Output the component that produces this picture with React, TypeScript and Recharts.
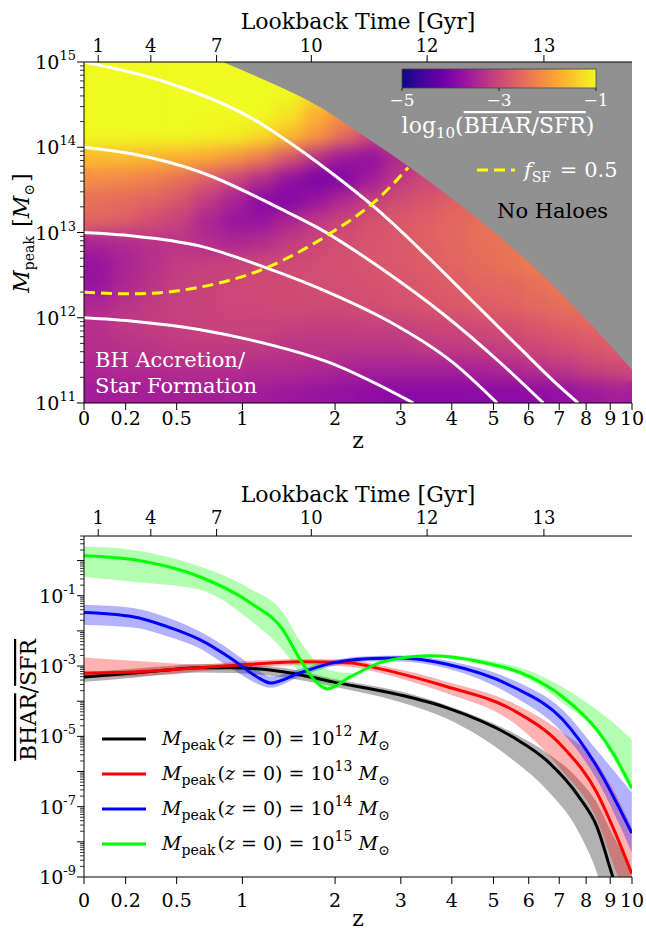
import React from 'react'
import { ComposedChart, Line, Area, XAxis, YAxis, ReferenceArea } from 'recharts'

const FONT = '"DejaVu Serif", serif'
const LG_MAX = Math.log10(11)

// axis ticks (x axis is log10(1+z))
const Z_TICKS = [0, 0.2, 0.5, 1, 2, 3, 4, 5, 6, 7, 8, 9, 10]
const LOOKBACK_LABELS = [1, 4, 7, 10, 12, 13]
const LOOKBACK_LG = [0.027, 0.127, 0.252, 0.432, 0.652, 0.874]
const MASS_LABELED = [11, 12, 13, 14, 15]
const RATIO_LABELED = [-9, -7, -5, -3, -1]
const RATIO_TOP = Math.log10(5)

// heat map: log10(BHAR/SFR), rows from logM 15 down to 11 (0.25 dex), 20 columns in log10(1+z)
const HEAT: number[][] = [
  [-0.8, -0.8, -0.8, -0.8, -0.8, -0.8, -0.9, -1.0, -1.0, -1.0, -1.0, -1.0, -1.0, -1.0, -1.0, -1.0, -1.0, -1.0, -1.0, -1.0],
  [-0.8, -0.8, -0.8, -0.8, -0.8, -0.8, -0.8, -0.9, -1.3, -1.5, -1.5, -1.5, -1.5, -1.5, -1.5, -1.5, -1.5, -1.5, -1.5, -1.5],
  [-0.8, -0.8, -0.8, -0.8, -0.8, -0.8, -0.85, -1.2, -1.7, -2.1, -2.3, -2.3, -2.3, -2.3, -2.3, -2.3, -2.3, -2.3, -2.3, -2.3],
  [-1.0, -1.0, -1.0, -1.0, -1.05, -1.1, -1.3, -1.6, -2.0, -2.5, -3.0, -3.0, -3.0, -3.0, -3.0, -3.0, -3.0, -3.0, -3.0, -3.0],
  [-1.6, -1.6, -1.65, -1.7, -1.8, -2.0, -2.3, -2.8, -3.3, -3.65, -3.75, -3.4, -3.1, -3.0, -3.0, -3.0, -3.0, -3.0, -3.0, -3.0],
  [-2.1, -2.15, -2.25, -2.45, -2.7, -3.0, -3.35, -3.75, -4.05, -3.95, -3.6, -3.2, -3.0, -2.85, -2.8, -2.8, -2.8, -2.8, -2.8, -2.8],
  [-2.45, -2.5, -2.6, -2.8, -3.15, -3.5, -3.85, -3.95, -3.7, -3.4, -3.1, -2.9, -2.8, -2.65, -2.55, -2.5, -2.5, -2.5, -2.5, -2.5],
  [-2.6, -2.7, -2.9, -3.1, -3.45, -3.7, -3.7, -3.45, -3.2, -3.0, -2.85, -2.75, -2.65, -2.55, -2.45, -2.4, -2.4, -2.4, -2.4, -2.4],
  [-3.5, -3.4, -3.3, -3.25, -3.35, -3.45, -3.35, -3.15, -3.0, -2.9, -2.8, -2.75, -2.65, -2.55, -2.45, -2.4, -2.35, -2.35, -2.35, -2.35],
  [-3.7, -3.5, -3.3, -3.15, -3.1, -3.05, -3.0, -2.95, -2.9, -2.85, -2.8, -2.75, -2.7, -2.6, -2.5, -2.4, -2.3, -2.3, -2.3, -2.3],
  [-3.7, -3.45, -3.25, -3.1, -3.05, -3.0, -2.95, -2.95, -2.9, -2.9, -2.85, -2.8, -2.75, -2.7, -2.6, -2.55, -2.45, -2.35, -2.3, -2.3],
  [-3.4, -3.25, -3.15, -3.1, -3.05, -3.0, -3.0, -2.95, -2.95, -2.95, -2.9, -2.85, -2.8, -2.75, -2.7, -2.65, -2.55, -2.45, -2.4, -2.4],
  [-3.3, -3.2, -3.15, -3.1, -3.05, -3.05, -3.05, -3.1, -3.15, -3.15, -3.1, -3.1, -3.05, -3.0, -2.95, -2.9, -2.8, -2.7, -2.6, -2.55],
  [-3.35, -3.3, -3.25, -3.2, -3.2, -3.2, -3.2, -3.25, -3.25, -3.25, -3.25, -3.25, -3.2, -3.2, -3.15, -3.1, -3.0, -2.9, -2.8, -2.7],
  [-3.45, -3.4, -3.4, -3.35, -3.35, -3.35, -3.4, -3.4, -3.45, -3.5, -3.55, -3.55, -3.55, -3.55, -3.5, -3.45, -3.35, -3.25, -3.1, -3.0],
  [-3.6, -3.55, -3.55, -3.55, -3.55, -3.55, -3.6, -3.65, -3.7, -3.75, -3.8, -3.85, -3.85, -3.85, -3.85, -3.85, -3.8, -3.75, -3.65, -3.55],
]

// "No Haloes" edge
const EDGE_LG = [0.264, 0.35, 0.449, 0.535, 0.62, 0.728, 0.854, 0.956, 1.0414]
const EDGE_M = [15.0, 14.77, 14.47, 14.12, 13.76, 13.26, 12.6, 11.97, 11.39]

// halo growth tracks, M_peak(z=0) = 10^12..10^15
const T15_LG = [0, 0.158, 0.316, 0.373, 0.468, 0.557, 0.639, 0.734, 0.829, 0.892, 0.939]
const T15_M = [15.0, 14.76, 14.35, 14.13, 13.71, 13.27, 12.8, 12.22, 11.64, 11.26, 11.0]
const T14_LG = [0, 0.093, 0.221, 0.373, 0.449, 0.576, 0.677, 0.797, 0.873]
const T14_M = [14.0, 13.92, 13.71, 13.28, 13.04, 12.53, 12.07, 11.44, 11.0]
const T13_LG = [0, 0.093, 0.221, 0.34, 0.468, 0.576, 0.702, 0.785]
const T13_M = [13.0, 12.96, 12.84, 12.6, 12.29, 11.97, 11.47, 11.0]
const T12_LG = [0, 0.093, 0.221, 0.316, 0.468, 0.626]
const T12_M = [12.0, 11.96, 11.86, 11.74, 11.47, 11.0]
const FSF_LG = [0, 0.093, 0.221, 0.34, 0.468, 0.563, 0.616]
const FSF_M = [12.3, 12.28, 12.36, 12.57, 12.99, 13.42, 13.76]

// bottom panel: log10(BHAR/SFR) with scatter bands
const K_LG = [0, 0.093, 0.158, 0.22, 0.283, 0.378, 0.473, 0.6, 0.69, 0.815, 0.878, 0.941, 0.975, 1.005, 1.041]
const K_MID = [-3.31, -3.2, -3.11, -3.05, -3.05, -3.16, -3.45, -3.82, -4.19, -5.02, -5.67, -6.73, -7.58, -9.0, -10.5]
const K_LO = [-3.45, -3.33, -3.24, -3.18, -3.2, -3.32, -3.58, -4.02, -4.5, -5.67, -6.5, -7.75, -8.9, -10.5, -12.0]
const K_HI = [-3.18, -3.08, -3.0, -2.95, -2.95, -3.05, -3.36, -3.72, -4.12, -4.9, -5.45, -6.24, -6.9, -7.8, -8.8]

const R_LG = [0, 0.093, 0.22, 0.316, 0.411, 0.506, 0.563, 0.63, 0.69, 0.815, 0.91, 0.975, 1.005, 1.041]
const R_MID = [-3.2, -3.17, -3.05, -2.95, -2.88, -2.91, -3.08, -3.33, -3.59, -4.25, -5.3, -6.61, -7.58, -8.9]
const R_LO = [-3.33, -3.3, -3.15, -3.05, -2.98, -3.02, -3.2, -3.48, -3.78, -4.6, -6.0, -7.37, -8.6, -10.0]
const R_HI = [-2.76, -2.85, -2.95, -2.85, -2.8, -2.82, -2.98, -3.2, -3.45, -4.05, -4.9, -5.75, -6.5, -7.6]

const B_LG = [0, 0.093, 0.158, 0.22, 0.283, 0.329, 0.354, 0.411, 0.473, 0.538, 0.6, 0.69, 0.815, 0.91, 0.975, 1.041]
const B_MID = [-1.48, -1.6, -1.88, -2.25, -2.82, -3.31, -3.48, -3.19, -2.91, -2.79, -2.77, -2.95, -3.59, -4.53, -5.87, -7.75]
const B_LO = [-1.83, -1.9, -2.15, -2.5, -3.1, -3.5, -3.62, -3.3, -3.0, -2.87, -2.87, -3.07, -3.85, -4.9, -6.24, -8.3]
const B_HI = [-1.26, -1.35, -1.62, -2.02, -2.6, -3.1, -3.3, -3.08, -2.83, -2.72, -2.7, -2.85, -3.4, -4.25, -5.4, -6.6]

const G_LG = [0, 0.093, 0.22, 0.316, 0.378, 0.411, 0.443, 0.462, 0.506, 0.568, 0.658, 0.753, 0.848, 0.91, 0.975, 1.005, 1.041]
const G_MID = [0.14, 0.03, -0.46, -1.2, -1.97, -2.82, -3.48, -3.65, -3.31, -2.88, -2.71, -2.88, -3.31, -3.88, -4.82, -5.47, -6.47]
const G_LO = [-0.46, -0.6, -0.83, -1.7, -2.54, -3.2, -3.5, -3.67, -3.36, -2.93, -2.76, -2.95, -3.4, -4.05, -4.9, -5.6, -6.6]
const G_HI = [0.4, 0.3, -0.17, -0.8, -1.48, -2.3, -2.9, -3.1, -3.2, -2.82, -2.66, -2.8, -3.15, -3.6, -4.25, -4.6, -5.1]

const PLASMA = ['#0d0887', '#41049d', '#6a00a8', '#8f0da4', '#b12a90', '#cc4778', '#e16462', '#f2844b', '#fca636', '#fcce25', '#f0f921']

function plasma(v: number) {
  const t = Math.max(0, Math.min(1, (v + 5) / 4)) * 10
  const i = Math.min(9, Math.floor(t))
  const f = t - i
  const a = PLASMA[i], b = PLASMA[i + 1]
  const ch = (h: string, k: number) => parseInt(h.slice(1 + 2 * k, 3 + 2 * k), 16)
  const c = [0, 1, 2].map(k => Math.round(ch(a, k) + (ch(b, k) - ch(a, k)) * f))
  return `rgb(${c[0]},${c[1]},${c[2]})`
}

const pts = (lg: number[], ys: number[]) => lg.map((x, i) => ({ lg: x, y: ys[i] }))
const band = (lg: number[], lo: number[], hi: number[]) => lg.map((x, i) => ({ lg: x, band: [lo[i], hi[i]] }))

const logTicks = (lo: number, hi: number) => {
  const out: number[] = []
  for (let n = Math.floor(lo); n <= hi; n++) {
    for (let k = 1; k <= 9; k++) {
      const t = n + Math.log10(k)
      if (t >= lo - 1e-9 && t <= hi + 1e-9) out.push(t)
    }
  }
  return out
}

const colW = LG_MAX / HEAT[0].length
const cells = HEAT.flatMap((row, r) =>
  row.map((v, c) => ({ x1: c * colW, x2: (c + 1) * colW, y1: 15 - (r + 1) * 0.25, y2: 15 - r * 0.25, fill: plasma(v) }))
)

function LogTick(props: any) {
  const { x, y, payload, labels } = props
  const v = payload.value
  const major = Math.abs(v - Math.round(v)) < 1e-6
  const len = major ? 7 : 4
  const show = major && labels.includes(Math.round(v))
  return (
    <g>
      <line x1={x - len} y1={y} x2={x} y2={y} stroke="#000" strokeWidth={major ? 1 : 0.8} />
      {show && (
        <text x={x - 8} y={y + 7} textAnchor="end" fontFamily={FONT} fontSize={19} fill="#000">
          10<tspan dy={-9} fontSize={13}>{Math.round(v)}</tspan>
        </text>
      )}
    </g>
  )
}

function ZTick(props: any) {
  const { x, y, payload, dy } = props
  const i = Z_TICKS.findIndex(z => Math.abs(Math.log10(1 + z) - payload.value) < 1e-9)
  return (
    <g>
      <line x1={x} y1={y} x2={x} y2={y + 7} stroke="#000" />
      <text x={x} y={y + dy} textAnchor="middle" fontFamily={FONT} fontSize={19} fill="#000">{Z_TICKS[i]}</text>
    </g>
  )
}

function AgeTick(props: any) {
  const { x, y, payload, dy } = props
  const i = LOOKBACK_LG.indexOf(payload.value)
  return (
    <g>
      <line x1={x} y1={y} x2={x} y2={y - 7} stroke="#000" />
      <text x={x} y={y - dy} textAnchor="middle" fontFamily={FONT} fontSize={18} fill="#000">{LOOKBACK_LABELS[i]}</text>
    </g>
  )
}

const zTickValues = Z_TICKS.map(z => Math.log10(1 + z))

const TRACKS = [pts(T15_LG, T15_M), pts(T14_LG, T14_M), pts(T13_LG, T13_M), pts(T12_LG, T12_M)]
const EDGE = band(EDGE_LG, EDGE_M, EDGE_M.map(() => 15))

const SERIES = [
  { mid: pts(K_LG, K_MID), band: band(K_LG, K_LO, K_HI), color: '#000000', exp: 12 },
  { mid: pts(R_LG, R_MID), band: band(R_LG, R_LO, R_HI), color: '#ff0000', exp: 13 },
  { mid: pts(B_LG, B_MID), band: band(B_LG, B_LO, B_HI), color: '#0000ff', exp: 14 },
  { mid: pts(G_LG, G_MID), band: band(G_LG, G_LO, G_HI), color: '#00ff00', exp: 15 },
]

function axes(bottomDy: number, topDy: number, yDomain: number[], yTicks: number[], labels: number[]) {
  return [
    <XAxis key="xb" xAxisId={0} dataKey="lg" type="number" domain={[0, LG_MAX]} allowDataOverflow ticks={zTickValues}
      interval={0} height={40} tickSize={0} tickMargin={0} tickLine={false} stroke="#000"
      tick={(p: any) => <ZTick {...p} dy={bottomDy} />} />,
    <XAxis key="xt" xAxisId="top" orientation="top" dataKey="lg" type="number" domain={[0, LG_MAX]} allowDataOverflow
      ticks={LOOKBACK_LG} interval={0} height={40} tickSize={0} tickMargin={0} tickLine={false} stroke="#000"
      tick={(p: any) => <AgeTick {...p} dy={topDy} />} />,
    <YAxis key="yl" yAxisId={0} type="number" domain={yDomain} allowDataOverflow ticks={yTicks} interval={0}
      width={70} tickSize={0} tickMargin={0} tickLine={false} stroke="#000"
      tick={(p: any) => <LogTick {...p} labels={labels} />} />,
    <YAxis key="yr" yAxisId="r" orientation="right" type="number" domain={yDomain} width={0} tick={false}
      tickLine={false} stroke="#000" />,
  ]
}

// colour grid in its own chart; a blurred copy is laid over a sharp one to smooth the cells
function HeatLayer({ blur }: { blur: number }) {
  return (
    <div style={{ position: 'absolute', left: 0, top: 0, filter: blur ? `blur(${blur}px)` : undefined,
      clipPath: 'inset(62px 14px 57px 84px)' }}>
      <ComposedChart width={646} height={460} margin={{ top: 62, right: 14, bottom: 57, left: 84 }}>
        <XAxis dataKey="lg" type="number" domain={[0, LG_MAX]} allowDataOverflow hide />
        <YAxis type="number" domain={[11, 15]} allowDataOverflow hide />
        <Line data={EDGE_LG.map((x, i) => ({ lg: x, y: EDGE_M[i] }))} dataKey="y" stroke="none" dot={false}
          activeDot={false} isAnimationActive={false} />
        {cells.map((c, i) => (
          <ReferenceArea key={i} x1={c.x1} x2={c.x2} y1={c.y1} y2={c.y2} fill={c.fill} fillOpacity={1}
            stroke={c.fill} strokeWidth={0.8} ifOverflow="visible" />
        ))}
      </ComposedChart>
    </div>
  )
}

function TopPanel() {
  return (
    <ComposedChart width={646} height={460} margin={{ top: 22, right: 14, bottom: 17, left: 14 }}>
      {axes(22, 10, [11, 15], logTicks(11, 15), MASS_LABELED)}
      <Area data={EDGE} dataKey="band" type="monotone" fill="#919191" fillOpacity={1} stroke="none"
        isAnimationActive={false} />
      {TRACKS.map((t, i) => (
        <Line key={i} data={t} dataKey="y" type="monotone" stroke="#ffffff" strokeWidth={3} dot={false}
          activeDot={false} isAnimationActive={false} />
      ))}
      <Line data={pts(FSF_LG, FSF_M)} dataKey="y" type="monotone" stroke="#ffff00" strokeWidth={3}
        strokeDasharray="11 6" dot={false} activeDot={false} isAnimationActive={false} />
    </ComposedChart>
  )
}

function BottomPanel() {
  return (
    <ComposedChart width={646} height={471} margin={{ top: 36, right: 14, bottom: 14, left: 14 }}>
      {axes(30, 12, [-9, RATIO_TOP], logTicks(-9, RATIO_TOP), RATIO_LABELED)}
      {SERIES.map((s, i) => (
        <Area key={'b' + i} data={s.band} dataKey="band" type="monotone" fill={s.color} fillOpacity={0.3}
          stroke="none" isAnimationActive={false} />
      ))}
      {SERIES.map((s, i) => (
        <Line key={'l' + i} data={s.mid} dataKey="y" type="monotone" stroke={s.color} strokeWidth={3}
          dot={false} activeDot={false} isAnimationActive={false} />
      ))}
    </ComposedChart>
  )
}

const sub = (t: string, size = 14) => [
  <tspan key="a" dy={5} fontSize={size}>{t}</tspan>,
  <tspan key="b" dy={-5}>{'\u200a'}</tspan>,
]

function Overlay() {
  const cbStops = PLASMA.map((c, i) => <stop key={i} offset={`${i * 10}%`} stopColor={c} />)
  return (
    <svg width={646} height={931} style={{ position: 'absolute', left: 0, top: 0, pointerEvents: 'none' }}
      fontFamily={FONT}>
      <defs>
        <linearGradient id="cb" x1="0" x2="1" y1="0" y2="0">{cbStops}</linearGradient>
      </defs>
      {/* top panel */}
      <text x={358} y={29} textAnchor="middle" fontSize={22}>Lookback Time [Gyr]</text>
      <text x={358} y={448} textAnchor="middle" fontSize={22}>z</text>
      <text transform="translate(29,233) rotate(-90)" textAnchor="middle" fontSize={22}>
        <tspan fontStyle="italic">M</tspan>{sub('peak')}
        <tspan> [</tspan><tspan fontStyle="italic">M</tspan>{sub('\u2299')}<tspan>]</tspan>
      </text>
      <rect x={402} y={69} width={194} height={19} fill="url(#cb)" stroke="#444" strokeWidth={0.8} />
      {[402, 499, 596].map((x, i) => (
        <g key={x}>
          <line x1={x} x2={x} y1={88} y2={91} stroke="#222" />
          <text x={x} y={106} textAnchor="middle" fontSize={17} fill="#fff">{['\u22125', '\u22123', '\u22121'][i]}</text>
        </g>
      ))}
      <text x={498} y={133} textAnchor="middle" fontSize={22} fill="#fff">
        log<tspan dy={5} fontSize={15}>10</tspan><tspan dy={-5}>(</tspan>
        <tspan style={{ textDecoration: 'overline' }}>BHAR</tspan>/<tspan style={{ textDecoration: 'overline' }}>SFR</tspan>)
      </text>
      <line x1={477} x2={515} y1={170} y2={170} stroke="#ffff00" strokeWidth={3} strokeDasharray="11 6" />
      <text x={524} y={177} fontSize={21} fill="#fff">
        <tspan fontStyle="italic">f</tspan>{sub('SF')}<tspan> = 0.5</tspan>
      </text>
      <text x={497} y={218} fontSize={21} fill="#000">No Haloes</text>
      <text x={95} y={367} fontSize={21} fill="#fff">BH Accretion/</text>
      <text x={95} y={393} fontSize={21} fill="#fff">Star Formation</text>

      {/* bottom panel */}
      <text x={358} y={502} textAnchor="middle" fontSize={22}>Lookback Time [Gyr]</text>
      <text x={358} y={926} textAnchor="middle" fontSize={22}>z</text>
      <text transform="translate(36,700) rotate(-90)" textAnchor="middle" fontSize={22}>
        <tspan style={{ textDecoration: 'overline' }}>BHAR</tspan>/<tspan style={{ textDecoration: 'overline' }}>SFR</tspan>
      </text>
      {SERIES.map((s, i) => {
        const y = 739 + i * 35
        return (
          <g key={i}>
            <line x1={102} x2={146} y1={y} y2={y} stroke={s.color} strokeWidth={3} />
            <text x={162} y={y + 6} fontSize={19}>
              <tspan fontStyle="italic">M</tspan>{sub('peak')}
              <tspan>(</tspan><tspan fontStyle="italic">z</tspan><tspan> = 0) = 10</tspan>
              <tspan dy={-9} fontSize={14}>{s.exp}</tspan>
              <tspan dy={9} fontStyle="italic"> M</tspan>{sub('\u2299')}
            </text>
          </g>
        )
      })}
    </svg>
  )
}

export default function App() {
  return (
    <div style={{ position: 'absolute', left: 0, top: 0, width: 646, height: 931, background: '#fff' }}>
      <HeatLayer blur={0} />
      <HeatLayer blur={8} />
      <div style={{ position: 'absolute', left: 0, top: 0 }}><TopPanel /></div>
      <div style={{ position: 'absolute', left: 0, top: 460 }}><BottomPanel /></div>
      <Overlay />
    </div>
  )
}
